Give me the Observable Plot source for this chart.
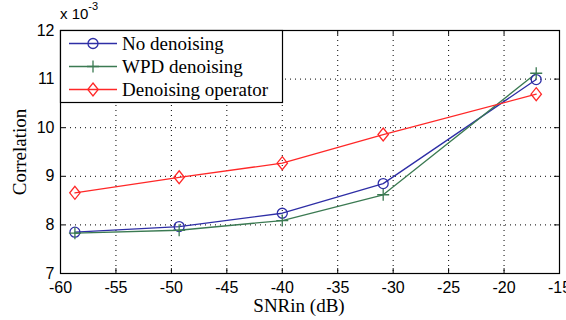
<!DOCTYPE html>
<html><head><meta charset="utf-8">
<script src="https://cdn.jsdelivr.net/npm/d3@7"></script>
<script src="https://cdn.jsdelivr.net/npm/@observablehq/plot@0.6"></script>
<style>
body{margin:0;background:#fff}
#chart{width:566px;height:320px}
</style>
</head><body><div id="chart"></div>
<script>
const snr = [-58.7, -49.3, -40, -30.9, -17.1];
const noDenoising = [7.85, 7.965, 8.24, 8.85, 10.99];
const wpdDenoising = [7.83, 7.89, 8.09, 8.62, 11.12];
const denoisingOperator = [8.66, 8.98, 9.27, 9.86, 10.69];
const seriesNames = ["No denoising", "WPD denoising", "Denoising operator"];
const seriesColors = ["#2e2ea6", "#3b7a52", "#ff2828"];
const xTicks = [-60, -55, -50, -45, -40, -35, -30, -25, -20, -15];
const yTicks = [7, 8, 9, 10, 11, 12];
const xLabel = "SNRin (dB)";
const yLabel = "Correlation";
const expBase = "x 10";
const expPower = "-3";

const seriesValues = [noDenoising, wpdDenoising, denoisingOperator];
const rows = seriesNames.flatMap((name, s) => snr.map((x, i) => ({series: name, x, y: seriesValues[s][i]})));

const circleSym = {draw(ctx, size) { const r = Math.sqrt(size / Math.PI); ctx.moveTo(r, 0); ctx.arc(0, 0, r, 0, 2 * Math.PI); }};
const plusSym = {draw(ctx, size) { const r = Math.sqrt(size / Math.PI); ctx.moveTo(-r, 0); ctx.lineTo(r, 0); ctx.moveTo(0, -r); ctx.lineTo(0, r); }};
const diamondSym = {draw(ctx, size) { const r = Math.sqrt(size / Math.PI); ctx.moveTo(0, -1.25 * r); ctx.lineTo(r, 0); ctx.lineTo(0, 1.25 * r); ctx.lineTo(-r, 0); ctx.closePath(); }};
const symbols = [circleSym, plusSym, diamondSym];
const symbolR = [5, 6, 5.2];

const xDom = [xTicks[0], xTicks[xTicks.length - 1]];
const yDom = [yTicks[0], yTicks[yTicks.length - 1]];
const innerX = xTicks.slice(1, -1);
const innerY = yTicks.slice(1, -1);

const chart = Plot.plot({
  width: 566, height: 320,
  marginLeft: 60, marginRight: 7, marginTop: 30, marginBottom: 47,
  style: {fontFamily: "'Liberation Sans', Arial, sans-serif", fontSize: "16px", color: "#000", background: "#fff"},
  x: {domain: xDom},
  y: {domain: yDom},
  color: {domain: seriesNames, range: seriesColors},
  marks: [
    Plot.ruleX(innerX, {stroke: "#000", strokeWidth: 1, strokeDasharray: "1,4"}),
    Plot.ruleY(innerY, {stroke: "#000", strokeWidth: 1, strokeDasharray: "1,4"}),
    Plot.ruleX(xTicks, {y1: yDom[0], y2: yDom[0] + 0.1, stroke: "#000"}),
    Plot.ruleX(xTicks, {y1: yDom[1], y2: yDom[1] - 0.1, stroke: "#000"}),
    Plot.ruleY(yTicks, {x1: xDom[0], x2: xDom[0] + 0.45, stroke: "#000"}),
    Plot.ruleY(yTicks, {x1: xDom[1], x2: xDom[1] - 0.45, stroke: "#000"}),
    Plot.frame({stroke: "#000", strokeWidth: 1.2}),
    Plot.axisX(xTicks, {tickSize: 0, tickPadding: 8, label: null, fontSize: 16, tickFormat: d => String(d)}),
    Plot.axisY(yTicks, {tickSize: 0, tickPadding: 6, label: null, fontSize: 16, tickFormat: d => String(d)}),
    Plot.line(rows, {x: "x", y: "y", z: "series", stroke: "series", strokeWidth: 1.3}),
    ...seriesNames.map((name, s) => Plot.dot(rows.filter(d => d.series === name), {x: "x", y: "y", stroke: "series", fill: "none", strokeWidth: 1.3, symbol: symbols[s], r: symbolR[s]}))
  ]
});
document.getElementById("chart").appendChild(chart);

const svg = d3.select(chart);
const serif = "'Liberation Serif', 'Times New Roman', serif";
// axis titles
svg.append("text").attr("x", 299).attr("y", 312).attr("text-anchor", "middle")
  .attr("font-family", serif).attr("font-size", 19).attr("fill", "#000").text(xLabel);
svg.append("text").attr("transform", "translate(26,152) rotate(-90)").attr("text-anchor", "middle")
  .attr("font-family", serif).attr("font-size", 19).attr("fill", "#000").text(yLabel);
// exponent
const ex = svg.append("text").attr("x", 60).attr("y", 19).attr("text-anchor", "start")
  .attr("font-size", 15).attr("fill", "#000");
ex.append("tspan").text(expBase);
ex.append("tspan").attr("dy", -9).attr("font-size", 11).text(expPower);

// legend
const lg = svg.append("g");
lg.append("rect").attr("x", 60.5).attr("y", 30.5).attr("width", 222).attr("height", 72)
  .attr("fill", "#fff").attr("stroke", "#000").attr("stroke-width", 1.2);
const rowY = [43.5, 66.5, 89.5];
seriesNames.forEach((name, s) => {
  const y = rowY[s];
  lg.append("line").attr("x1", 69).attr("x2", 117).attr("y1", y).attr("y2", y)
    .attr("stroke", seriesColors[s]).attr("stroke-width", 1.3);
  const r = symbolR[s];
  lg.append("path").attr("d", d3.symbol(symbols[s], r * r * Math.PI)()).attr("transform", `translate(93,${y})`)
    .attr("fill", "none").attr("stroke", seriesColors[s]).attr("stroke-width", 1.3);
  lg.append("text").attr("x", 122).attr("y", y).attr("dy", "0.34em").attr("text-anchor", "start")
    .attr("font-family", serif).attr("font-size", 19).attr("fill", "#000").text(name);
});
</script>
</body></html>
